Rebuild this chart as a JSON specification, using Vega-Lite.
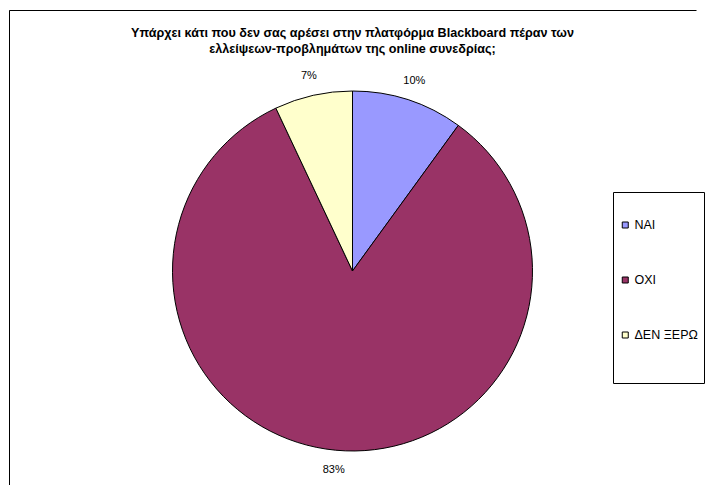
{
  "$schema": "https://vega.github.io/schema/vega-lite/v6.json",
  "autosize": "none",
  "width": 687,
  "height": 522,
  "padding": {"left": 9, "top": 10, "right": 12, "bottom": 0},
  "background": "white",
  "view": {"stroke": "black", "strokeWidth": 1, "fill": "white", "strokeDash": [687, 1209, 522], "strokeDashOffset": 0},
  "config": {
    "font": "Liberation Sans",
    "view": {"stroke": "black", "strokeWidth": 1, "strokeDash": [687, 1209, 522]},
    "style": {"cell": {"stroke": "black", "strokeWidth": 1, "strokeDash": [687, 1209, 522]}}
  },
  "title": {
    "text": ["Υπάρχει κάτι που δεν σας αρέσει στην πλατφόρμα Blackboard πέραν των", "ελλείψεων-προβλημάτων της online συνεδρίας;"],
    "fontSize": 12.6,
    "fontWeight": "bold",
    "font": "Liberation Sans",
    "color": "black",
    "anchor": "middle",
    "offset": -46,
    "lineHeight": 16
  },
  "data": {
    "values": [
      {"answer": "ΝΑΙ", "share": 0.10, "k": 1},
      {"answer": "ΟΧΙ", "share": 0.83, "k": 2},
      {"answer": "ΔΕΝ ΞΕΡΩ", "share": 0.07, "k": 3}
    ]
  },
  "encoding": {
    "theta": {"field": "share", "type": "quantitative", "stack": true},
    "order": {"field": "k", "type": "quantitative"}
  },
  "layer": [
    {
      "mark": {"type": "arc", "outerRadius": 180, "stroke": "black", "strokeWidth": 1},
      "encoding": {
        "color": {
          "field": "answer",
          "type": "nominal",
          "scale": {"domain": ["ΝΑΙ", "ΟΧΙ", "ΔΕΝ ΞΕΡΩ"], "range": ["#9999FF", "#993366", "#FFFFCC"]},
          "legend": {
            "orient": "none",
            "legendX": 604,
            "legendY": 182,
            "title": "\u00a0\u00a0\u00a0\u00a0\u00a0\u00a0\u00a0\u00a0\u00a0\u00a0\u00a0\u00a0\u00a0\u00a0\u00a0\u00a0\u00a0\u00a0\u00a0\u00a0\u00a0\u00a0\u00a0\u00a0\u00a0\u00a0\u00a0\u00a0\u00a0\u00a0\u00a0\u00a0\u00a0\u00a0\u00a0\u00a0\u00a0\u00a0\u00a0\u00a0",
            "titleOrient": "bottom",
            "titleFontSize": 11,
            "titlePadding": 4,
            "padding": 6,
            "clipHeight": 54,
            "rowPadding": 1,
            "strokeColor": "black",
            "fillColor": "white",
            "symbolType": "square",
            "symbolSize": 36,
            "symbolStrokeColor": "black",
            "symbolStrokeWidth": 1,
            "labelFontSize": 12.5,
            "labelFont": "Liberation Sans",
            "labelColor": "black",
            "labelOffset": 3,
            "labelLimit": 300
          }
        }
      }
    },
    {
      "mark": {"type": "text", "radius": 200, "fontSize": 11, "font": "Liberation Sans", "color": "black"},
      "encoding": {
        "text": {"field": "share", "type": "quantitative", "format": ".0%"}
      }
    }
  ]
}
